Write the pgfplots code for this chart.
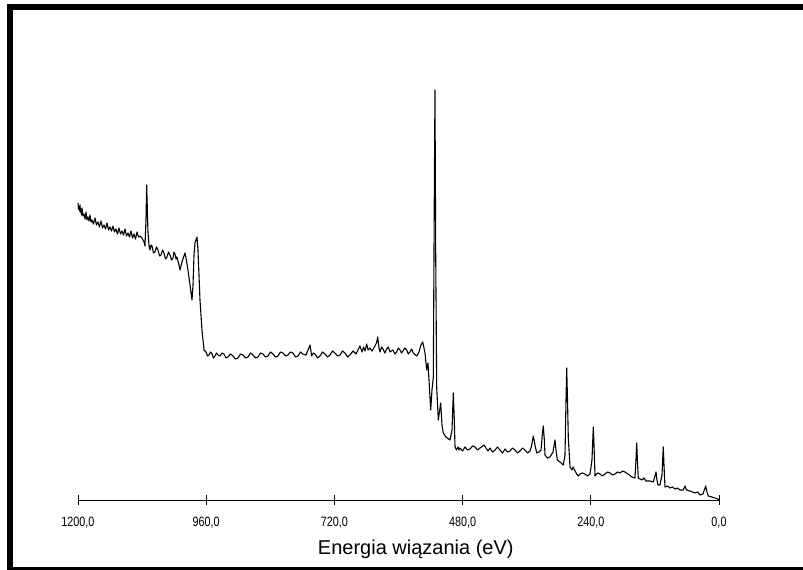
\documentclass[border=0pt]{standalone}
\usepackage{fontspec}
\setmainfont{Liberation Sans}
\usepackage{graphicx}
\usepackage{pgfplots}
\pgfplotsset{compat=1.18}
\begin{document}
\begin{tikzpicture}[x=1pt,y=1pt]
\useasboundingbox (0,0) rectangle (803,570);
% frame
\fill[black] (7.3,0) rectangle (13.3,566);
\fill[black] (7.3,560) rectangle (803,566);
\fill[black] (7.3,0) rectangle (803,2.7);
\begin{axis}[
  at={(78pt,70pt)}, anchor=south west,
  scale only axis, width=641pt, height=480pt,
  xmin=0, xmax=1200, ymin=0, ymax=480,
  x dir=reverse,
  axis x line=bottom, axis y line=none,
  axis line style={-, black, line width=0.8pt},
  xtick={0,240,480,720,960,1200},
  xtick align=center, major tick length=9pt,
  tick style={black, line width=0.8pt},
  /pgf/number format/.cd, fixed, fixed zerofill, precision=1, use comma, 1000 sep={}, assume math mode=true,
  /pgfplots/.cd,
  xticklabel={\scalebox{0.8}[1]{\pgfmathprintnumber{\tick}}},
  xticklabel style={font=\fontsize{13.5}{15}\selectfont, anchor=base, yshift=-22pt},
  xlabel={Energia wiązania (eV)},
  xlabel style={font=\fontsize{20}{24}\selectfont, at={(axis description cs:0.527,0)}, anchor=base, yshift=-54pt},
  clip=false,
]
\addplot[black, line width=1.1pt, line join=round] coordinates {
(1200.0,297) (1199.0,291) (1198.1,293) (1197.2,289) (1196.3,295) (1195.3,288) (1194.4,290) (1193.5,285) (1192.5,292) (1190.7,284) (1188.8,286) (1186.9,281) (1185.0,288) (1183.2,280) (1181.3,283)
(1179.4,279) (1177.5,285) (1175.7,278) (1173.8,280) (1171.0,276) (1168.2,282) (1165.4,275) (1162.6,278) (1159.8,273) (1156.9,279) (1154.1,272) (1151.3,275) (1148.5,271) (1145.7,277) (1142.9,270) (1140.1,273)
(1137.3,269) (1134.5,274) (1131.7,268) (1128.9,271) (1126.0,266) (1123.2,272) (1120.4,266) (1117.6,269) (1114.8,265) (1112.0,271) (1109.2,264) (1106.4,267) (1103.6,263) (1100.8,269) (1098.0,262) (1095.2,266)
(1092.4,261) (1089.5,268) (1086.7,263) (1083.9,264) (1080.2,262) (1076.4,258) (1074.6,254) (1072.7,280) (1071.4,315) (1069.9,285)
(1069.0,268) (1067.1,255) (1065.2,250) (1063.3,255) (1061.5,254) (1058.7,247) (1055.9,248) (1053.0,253) (1050.2,250) (1047.4,244) (1044.6,245) (1041.8,250) (1039.0,247)
(1036.2,241) (1033.4,243) (1030.6,248) (1027.8,245) (1024.9,240) (1022.1,242) (1020.3,248) (1018.4,246) (1016.5,241) (1014.7,243) (1010.9,235) (1009.0,230) (1005.3,238)
(1001.6,244) (999.7,247) (997.8,242) (994.1,230) (990.3,215) (986.6,200) (984.7,215) (982.8,245)
(981.0,257) (979.1,260) (977.2,263) (975.4,250) (973.5,225) (971.6,200) (967.9,170) (964.1,150)
(960.4,148) (957.6,144) (954.8,145) (951.9,148) (949.1,146) (946.3,142) (943.5,144) (940.7,147) (937.9,145)
(934.2,144) (930.4,147) (926.7,146) (922.9,142) (919.2,143) (914.5,146) (909.8,144) (905.1,141) (900.5,142) (895.8,146) (891.1,145) (886.4,142) (881.7,143) (877.0,147) (872.4,145)
(867.7,142) (863.0,143) (858.4,147) (853.7,146) (849.0,143) (844.3,144) (839.6,148) (834.9,146) (830.2,143) (825.6,144) (820.9,148) (816.2,147) (811.5,144) (806.9,145) (802.2,148) (797.5,147)
(792.8,143) (788.1,144) (783.5,148) (778.8,146) (773.2,145) (769.4,150) (765.7,155) (762.5,144) (759.4,147) (756.3,146) (751.6,142) (747.0,144)
(742.3,148) (737.6,146) (732.9,143) (728.2,145) (723.6,149) (718.9,147) (714.2,144) (709.5,145) (704.8,149) (700.2,147) (695.5,143) (690.8,145) (685.2,149) (679.6,146) (675.8,150)
(672.1,154) (668.3,148) (665.5,153) (662.7,149) (659.5,156) (657.1,150) (653.4,152) (649.6,149)
(644.0,154) (641.2,157) (638.9,163) (636.5,152) (634.6,148) (631.8,153) (629.0,151) (625.6,147) (622.1,151) (619.0,153) (615.9,148)
(610.3,150) (606.9,146) (603.4,148) (600.3,152) (597.2,150) (594.4,147) (591.6,149) (588.2,152) (584.7,150) (581.6,146) (578.5,148) (575.4,151) (572.3,147) (565.9,144)
(561.6,148) (557.9,155) (554.7,158) (552.3,152) (550.4,147) (547.2,130) (544.8,137) (542.9,120)
(539.7,90) (537.3,110) (534.8,123) (533.0,300) (531.7,410) (530.4,250) (528.5,113) (525.5,80)
(521.0,97) (518.6,75) (516.1,67) (511.1,63) (503.6,60) (499.8,70) (497.4,107) (495.5,80)
(494.2,53) (491.4,50) (488.6,53) (486.7,50) (484.9,52)
(480.2,49) (475.5,53) (470.8,50) (466.1,51) (461.4,54) (456.8,53) (452.1,50) (447.4,52) (439.9,55) (436.2,52) (432.4,49) (428.7,52) (424.0,48) (419.3,50)
(414.6,53) (410.0,50) (405.3,47) (400.6,51) (395.9,48) (391.3,49) (386.6,52) (381.9,50) (377.2,47) (372.5,49) (367.8,52) (363.2,50) (358.5,47) (353.8,49)
(351.0,54) (347.6,64) (344.5,55) (341.3,47) (337.0,48) (333.2,50) (330.8,65) (328.9,74)
(327.0,60) (325.7,45) (321.0,42) (316.4,43) (310.8,48) (307.0,60) (305.1,50) (302.7,40) (297.7,38)
(291.5,35) (288.3,45) (286.4,100) (285.1,132) (283.6,100) (282.1,62) (278.9,33) (275.2,30)
(273.3,33) (266.4,26) (263.3,24) (260.2,26) (255.5,27) (250.9,26) (246.2,24) (241.5,26) (237.8,40) (235.3,73) (234.0,55)
(232.1,24) (227.5,27) (222.8,26) (218.1,24) (213.4,26) (208.8,28) (204.1,27) (199.4,25) (194.7,26) (190.0,28) (185.3,27) (180.7,29) (176.0,28) (170.4,26)
(162.9,23) (157.3,22) (155.4,40) (154.1,57) (152.6,38) (151.1,22) (144.1,20) (140.4,22) (136.7,19)
(129.2,19) (123.0,18) (117.9,28) (116.1,20) (114.2,15) (110.5,15) (106.7,25) (104.3,53)
(103.0,35) (101.1,13) (96.4,14) (91.7,12) (87.1,13) (82.4,11) (77.7,12) (73.0,10) (66.8,10) (63.7,14) (60.8,10)
(54.3,9) (49.6,8) (44.9,7) (40.2,8) (35.6,5) (30.0,6) (24.9,14) (22.5,8) (20.0,4) (13.1,3)
(7.5,2) (1.9,1) (0,0)
};
\end{axis}
\end{tikzpicture}
\end{document}
